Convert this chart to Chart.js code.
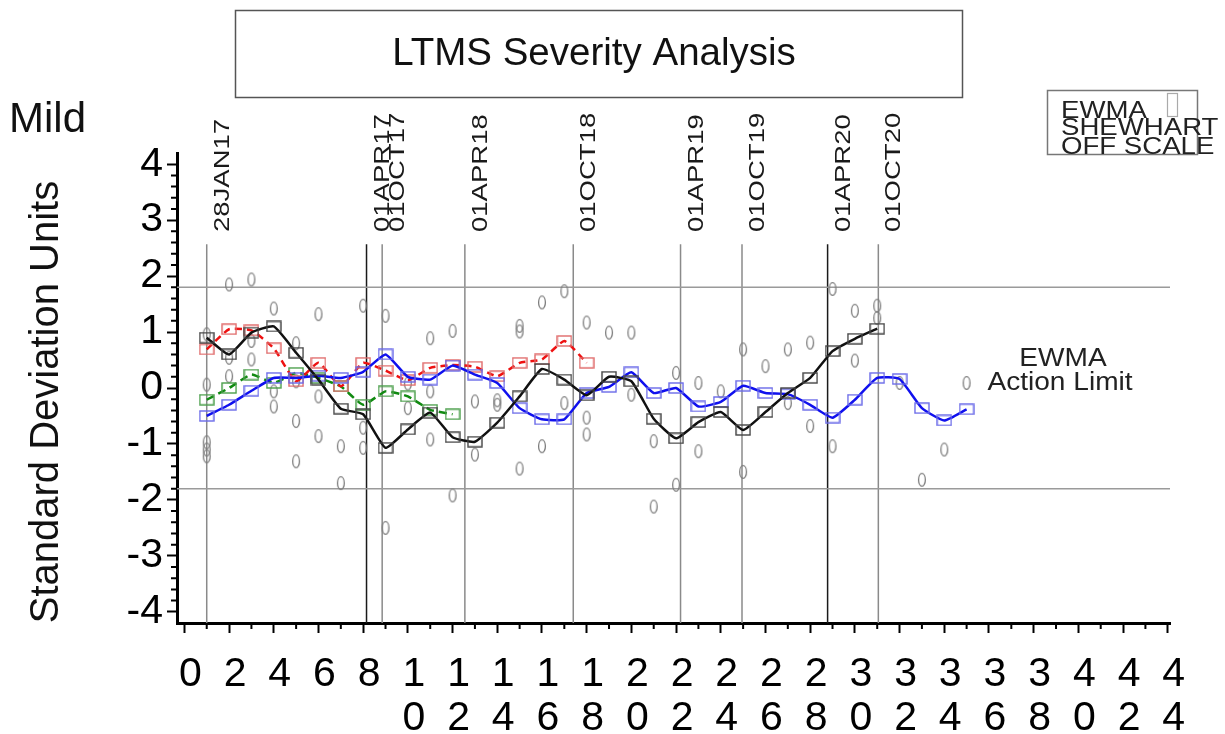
<!DOCTYPE html>
<html>
<head>
<meta charset="utf-8">
<script src="https://cdn.jsdelivr.net/npm/chart.js@4.4.0/dist/chart.umd.min.js"></script>
<style>
html, body { margin: 0; padding: 0; background: #fff; }
#wrap { width: 1225px; height: 734px; position: relative; }
</style>
</head>
<body>
<div id="wrap"><canvas id="chart"></canvas></div>
<script>
const FONT = '"Liberation Sans", Arial, sans-serif';

// EWMA series, one value per test starting at x = 1
const ewmaBlack = [0.9, 0.6, 0.99, 1.1, 0.63, 0.15, -0.37, -0.47, -1.07, -0.74, -0.44, -0.88, -0.96, -0.62, -0.15,
  0.34, 0.15, -0.13, 0.2, 0.12, -0.55, -0.9, -0.61, -0.43, -0.75, -0.43, -0.09, 0.18, 0.66, 0.88, 1.06];
const ewmaRed = [0.69, 1.05, 1.03, 0.71, 0.12, 0.45, 0.03, 0.45, 0.31, 0.14, 0.36, 0.41, 0.38, 0.21, 0.45, 0.51, 0.84, 0.45];
const ewmaGreen = [-0.21, 0.0, 0.24, 0.09, 0.27, 0.18, 0.03, -0.3, -0.06, -0.15, -0.39, -0.47];
const ewmaBlue = [-0.5, -0.3, -0.05, 0.18, 0.18, 0.22, 0.18, 0.29, 0.6, 0.2, 0.15, 0.4, 0.24, 0.09, -0.36, -0.56, -0.56,
  -0.09, 0.02, 0.28, -0.09, 0.0, -0.33, -0.25, 0.04, -0.09, -0.11, -0.3, -0.53, -0.21, 0.18, 0.16, -0.36, -0.58, -0.38];

// individual (shewhart) results
const shewhartX = [1, 1, 1, 1, 1, 2, 2, 2, 3, 3, 3, 4, 4, 4, 5, 5, 5, 5, 6, 6, 6, 7, 7, 8, 8, 8, 9, 9, 10, 10,
  11, 11, 11, 12, 12, 13, 13, 14, 14, 15, 15, 15, 16, 16, 17, 17, 18, 18, 18, 19, 20, 20, 21, 21, 22, 22,
  23, 23, 24, 25, 25, 26, 27, 27, 28, 28, 29, 29, 30, 30, 31, 31, 32, 33, 34, 35];
const shewhartY = [0.96, 0.06, -0.97, -1.1, -1.22, 1.85, 0.54, 0.21, 1.94, 0.84, 0.51, 1.42, -0.06, -0.33, 0.8, 0.12, -0.59, -1.31,
  1.32, -0.15, -0.86, -1.04, -1.7, 1.47, -0.71, -1.07, 1.29, -2.5, 0.08, -0.36,
  0.89, -0.06, -0.92, 1.02, -1.92, -0.24, -1.19, -0.22, -0.3, 1.11, 1.01, -1.44, 1.53, -1.04, 1.73, -0.27, 1.17, -0.53, -0.83,
  0.99, 0.99, -0.12, -0.95, -2.12, 0.27, -1.73, 0.09, -1.13, -0.06, 0.69, -1.5, 0.39, 0.69, -0.27, 0.81, -0.68,
  1.77, -1.04, 1.38, 0.49, 1.47, 1.25, 0.09, -1.64, -1.1, 0.09];

// date markers along the test axis
const dateLabels = ['28JAN17', '01APR17', '01OCT17', '01APR18', '01OCT18', '01APR19', '01OCT19', '01APR20', '01OCT20'];
const datePositions = [1.0, 8.15, 8.85, 12.55, 17.4, 22.2, 24.95, 28.78, 31.05];
const dateDark = [false, true, false, false, false, false, false, true, false];

const actionLimit = 1.8;
const xTickValues = [0, 2, 4, 6, 8, 10, 12, 14, 16, 18, 20, 22, 24, 26, 28, 30, 32, 34, 36, 38, 40, 42, 44];
const yTickValues = [-4, -3, -2, -1, 0, 1, 2, 3, 4];

const X_MIN = -0.33, X_MAX = 44.1, Y_MIN = -4.2, Y_MAX = 4.2;
const DATE_LINE_TOP = 2.57;

function boxMarker(color) {
  const c = document.createElement('canvas');
  c.width = 16; c.height = 12;
  const g = c.getContext('2d');
  g.strokeStyle = color;
  g.lineWidth = 1.4;
  g.strokeRect(1, 1, 14, 10);
  return c;
}

function zeroMarker() {
  const c = document.createElement('canvas');
  c.width = 10; c.height = 18;
  const g = c.getContext('2d');
  g.strokeStyle = '#7c7c7c';
  g.lineWidth = 1.3;
  g.beginPath();
  g.ellipse(5, 9, 3.4, 6.3, 0, 0, Math.PI * 2);
  g.stroke();
  return c;
}

const toPoints = arr => arr.map((v, i) => ({ x: i + 1, y: v }));

function ewmaSet(label, data, line, box, dash) {
  return {
    label: label,
    type: 'line',
    data: toPoints(data),
    borderColor: line,
    borderWidth: 2.5,
    borderDash: dash || [],
    tension: 0.15,
    pointStyle: boxMarker(box),
    pointRadius: 6,
    fill: false
  };
}

const datasets = [
  ewmaSet('EWMA black', ewmaBlack, '#111', '#444'),
  ewmaSet('EWMA blue', ewmaBlue, '#1010ee', '#6a6ae8'),
  ewmaSet('EWMA red', ewmaRed, '#ee1111', '#e06a6a', [7, 5]),
  ewmaSet('EWMA green', ewmaGreen, '#118a11', '#4a9e4a', [8, 5]),
  {
    label: 'SHEWHART',
    type: 'scatter',
    data: shewhartX.map((x, i) => ({ x: x, y: shewhartY[i] })),
    pointStyle: zeroMarker(),
    pointRadius: 5,
    showLine: false
  }
];

[actionLimit, -actionLimit].forEach(v => {
  datasets.push({
    type: 'line',
    data: [{ x: X_MIN, y: v }, { x: X_MAX, y: v }],
    borderColor: '#9a9a9a',
    borderWidth: 1.5,
    pointRadius: 0
  });
});

datePositions.forEach((p, i) => {
  datasets.push({
    type: 'line',
    data: [{ x: p, y: Y_MIN }, { x: p, y: DATE_LINE_TOP }],
    borderColor: dateDark[i] ? '#1a1a1a' : '#8a8a8a',
    borderWidth: 1.5,
    pointRadius: 0
  });
});

// text, boxes and minor ticks around the plot
const decorations = {
  id: 'decorations',
  afterDraw(chart) {
    const ctx = chart.ctx;
    const xs = chart.scales.x, ys = chart.scales.y;
    const area = chart.chartArea;
    ctx.save();

    // minor ticks
    ctx.strokeStyle = '#000';
    ctx.lineWidth = 2;
    ctx.beginPath();
    for (let v = 1; v < X_MAX; v += 2) {
      const px = xs.getPixelForValue(v);
      ctx.moveTo(px, area.bottom);
      ctx.lineTo(px, area.bottom + 6);
    }
    for (let k = -20; k <= 20; k++) {
      if (k % 5 === 0) continue;
      const py = ys.getPixelForValue(k * 0.2);
      ctx.moveTo(area.left, py);
      ctx.lineTo(area.left - 6, py);
    }
    ctx.stroke();

    // title box
    ctx.strokeStyle = '#555';
    ctx.lineWidth = 1.5;
    ctx.strokeRect(235.5, 10.5, 727, 87);
    ctx.fillStyle = '#111';
    ctx.font = '38.5px ' + FONT;
    ctx.textAlign = 'center';
    ctx.textBaseline = 'middle';
    ctx.fillText('LTMS Severity Analysis', 594, 54);

    ctx.font = '42px ' + FONT;
    ctx.textAlign = 'left';
    ctx.textBaseline = 'alphabetic';
    ctx.fillText('Mild', 9, 132);

    // axis title
    ctx.save();
    ctx.translate(47, 402);
    ctx.rotate(-Math.PI / 2);
    ctx.textAlign = 'center';
    ctx.textBaseline = 'middle';
    ctx.font = '40px ' + FONT;
    ctx.fillText('Standard Deviation Units', 0, 0);
    ctx.restore();

    // date labels
    ctx.font = '22px ' + FONT;
    ctx.fillStyle = '#1a1a1a';
    dateLabels.forEach((lab, i) => {
      const px = xs.getPixelForValue(datePositions[i]);
      ctx.save();
      ctx.translate(px + 16, 232);
      ctx.rotate(-Math.PI / 2);
      ctx.scale(1.25, 1);
      ctx.textAlign = 'left';
      ctx.textBaseline = 'middle';
      ctx.fillText(lab, 0, 0);
      ctx.restore();
    });

    // legend
    ctx.strokeStyle = '#777';
    ctx.lineWidth = 1.5;
    ctx.strokeRect(1047.5, 90.5, 150, 64);
    ctx.strokeStyle = '#aaa';
    ctx.lineWidth = 1.2;
    ctx.strokeRect(1167.5, 93.5, 10, 23);
    ctx.fillStyle = '#222';
    ctx.font = '24px ' + FONT;
    [['EWMA', 118], ['SHEWHART', 135], ['OFF SCALE', 154]].forEach(([t, y]) => {
      ctx.save();
      ctx.translate(1061, y);
      ctx.scale(1.15, 1);
      ctx.textAlign = 'left';
      ctx.fillText(t, 0, 0);
      ctx.restore();
    });

    // action limit note
    ctx.font = '26px ' + FONT;
    ctx.fillStyle = '#222';
    [['EWMA', 1063, 366], ['Action Limit', 1060, 390]].forEach(([t, x, y]) => {
      ctx.save();
      ctx.translate(x, y);
      ctx.scale(1.08, 1);
      ctx.textAlign = 'center';
      ctx.fillText(t, 0, 0);
      ctx.restore();
    });

    ctx.restore();
  }
};

new Chart(document.getElementById('chart'), {
  data: { datasets: datasets },
  options: {
    responsive: true,
    maintainAspectRatio: false,
    animation: false,
    layout: { padding: { left: 0, right: 55, top: 153, bottom: 0 } },
    plugins: { legend: { display: false }, tooltip: { enabled: false } },
    scales: {
      x: {
        type: 'linear',
        min: X_MIN,
        max: X_MAX,
        afterBuildTicks: s => { s.ticks = xTickValues.map(v => ({ value: v })); },
        afterFit: s => { s.height = 111; },
        ticks: {
          callback: v => String(v).split(''),
          color: '#000',
          font: { family: FONT, size: 41, lineHeight: 1.06 },
          padding: 20,
          labelOffset: 6,
          maxRotation: 0,
          autoSkip: false
        },
        grid: { drawOnChartArea: false, tickLength: 10, tickColor: '#000', tickWidth: 2 },
        border: { color: '#000', width: 3 }
      },
      y: {
        type: 'linear',
        min: Y_MIN,
        max: Y_MAX,
        afterBuildTicks: s => { s.ticks = yTickValues.map(v => ({ value: v })); },
        afterFit: s => { s.width = 177; },
        ticks: {
          color: '#000',
          font: { family: FONT, size: 41 },
          padding: 4,
          autoSkip: false
        },
        grid: { drawOnChartArea: false, tickLength: 10, tickColor: '#000', tickWidth: 2 },
        border: { color: '#000', width: 3 }
      }
    }
  },
  plugins: [decorations]
});
</script>
</body>
</html>
